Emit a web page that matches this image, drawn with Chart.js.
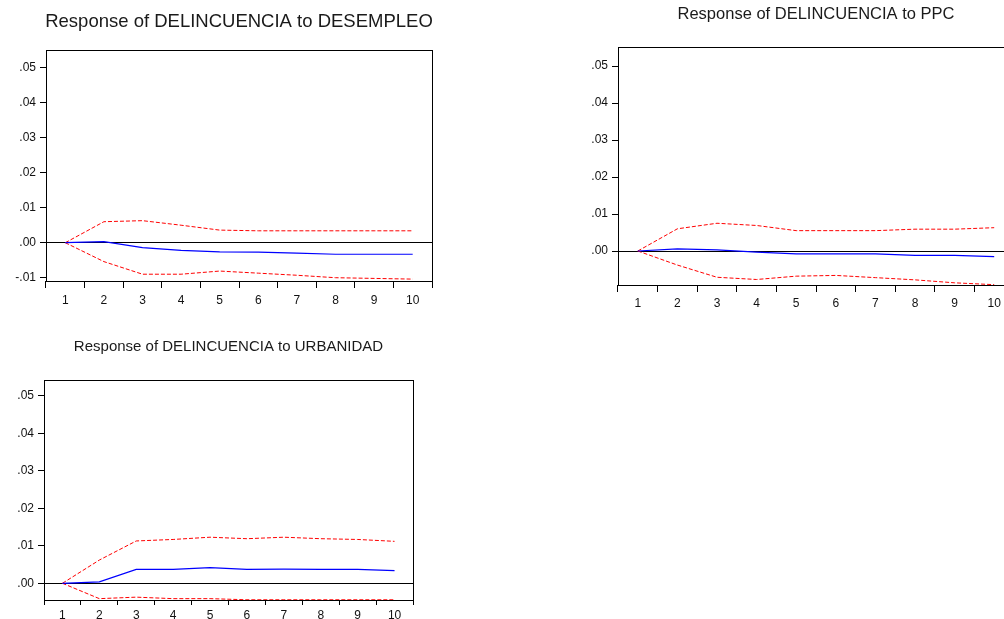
<!DOCTYPE html>
<html lang="en">
<head>
  <meta charset="UTF-8">
  <title>Impulse responses of DELINCUENCIA</title>
  <script src="https://cdn.jsdelivr.net/npm/chart.js"></script>
  <style>
    html, body { margin: 0; padding: 0; background: #fff; overflow: hidden; width: 1004px; height: 619px; }
    canvas { position: absolute; }
  </style>
</head>
<body>
  <canvas id="chartDes" width="478" height="310" style="left:0px;top:0px"></canvas>
  <canvas id="chartPpc" width="476" height="315" style="left:578px;top:0px"></canvas>
  <canvas id="chartUrb" width="457" height="289" style="left:0px;top:330px"></canvas>

  <script>
    const periods = ['1', '2', '3', '4', '5', '6', '7', '8', '9', '10'];
    const ticksWithNeg = [-0.01, 0, 0.01, 0.02, 0.03, 0.04, 0.05];
    const ticksPos = [0, 0.01, 0.02, 0.03, 0.04, 0.05];

    // DESEMPLEO shock
    const desResp = [0, 0.0003, -0.0014, -0.0022, -0.0026, -0.0027, -0.0030, -0.0033, -0.0033, -0.0033];
    const desUpper = [0, 0.0060, 0.0063, 0.0050, 0.0036, 0.0034, 0.0034, 0.0034, 0.0034, 0.0034];
    const desLower = [0, -0.0054, -0.0090, -0.0090, -0.0081, -0.0087, -0.0093, -0.0100, -0.0102, -0.0104];

    // PPC shock
    const ppcResp = [0, 0.0006, 0.0003, -0.0003, -0.0008, -0.0008, -0.0008, -0.0012, -0.0012, -0.0015];
    const ppcUpper = [0, 0.0060, 0.0075, 0.0069, 0.0055, 0.0055, 0.0055, 0.0059, 0.0059, 0.0063];
    const ppcLower = [0, -0.0038, -0.0071, -0.0077, -0.0068, -0.0066, -0.0072, -0.0078, -0.0086, -0.0091];

    // URBANIDAD shock
    const urbResp = [0, 0.0004, 0.0037, 0.0037, 0.0042, 0.0037, 0.0038, 0.0037, 0.0037, 0.0034];
    const urbUpper = [0, 0.0062, 0.0113, 0.0117, 0.0123, 0.0119, 0.0123, 0.0119, 0.0117, 0.0112];
    const urbLower = [0, -0.0041, -0.0037, -0.0041, -0.0041, -0.0044, -0.0044, -0.0044, -0.0044, -0.0044];

    const FONT = "'Liberation Sans', Arial, sans-serif";

    // black frame round the plot area
    const frame = {
      id: 'frame',
      afterDraw(chart) {
        const a = chart.chartArea;
        const ctx = chart.ctx;
        ctx.save();
        ctx.strokeStyle = '#000';
        ctx.lineWidth = 1;
        ctx.strokeRect(Math.round(a.left) + 0.5, Math.round(a.top) + 0.5,
          Math.round(a.right - a.left), Math.round(a.bottom - a.top));
        ctx.restore();
      }
    };

    function fmt(v) {
      return v.toFixed(2).replace('0.', '.');
    }

    function makeChart(id, cfg) {
      new Chart(document.getElementById(id), {
        type: 'line',
        data: {
          labels: periods,
          datasets: [
            { data: cfg.resp, borderColor: '#0000ff', borderWidth: 1.2 },
            { data: cfg.upper, borderColor: '#ff0000', borderWidth: 1, borderDash: [4, 2] },
            { data: cfg.lower, borderColor: '#ff0000', borderWidth: 1, borderDash: [4, 2] }
          ]
        },
        options: {
          responsive: false,
          animation: false,
          elements: { point: { radius: 0 }, line: { tension: 0 } },
          layout: { padding: 0 },
          plugins: {
            legend: { display: false },
            tooltip: { enabled: false },
            title: {
              display: true,
              text: cfg.title,
              color: '#1a1a1a',
              font: { family: FONT, size: cfg.titleSize, weight: 'normal' },
              padding: { top: cfg.titleTop, bottom: cfg.titleBottom }
            }
          },
          scales: {
            x: {
              offset: true,
              border: { display: false },
              grid: { offset: true, drawOnChartArea: false, color: '#000', tickLength: cfg.xTick },
              ticks: { color: '#111', padding: cfg.xPad, maxRotation: 0, font: { family: FONT, size: 12 } },
              afterFit: s => { s.height = cfg.xHeight; }
            },
            y: {
              min: cfg.min,
              max: cfg.max,
              border: { display: false },
              afterBuildTicks: s => { s.ticks = cfg.yTicks.map(v => ({ value: v })); },
              afterFit: s => { s.width = cfg.yWidth; },
              grid: {
                tickLength: 6,
                tickColor: '#000',
                color: c => (c.tick && Math.abs(c.tick.value) < 1e-9) ? '#000' : 'rgba(0,0,0,0)'
              },
              ticks: { color: '#111', padding: 4, font: { family: FONT, size: 12 }, callback: v => fmt(v) }
            },
            // empty right-hand spacer so the title sits over the plot box
            yRight: {
              position: 'right',
              border: { display: false },
              grid: { display: false },
              ticks: { display: false },
              afterFit: s => { s.width = cfg.yWidth; }
            }
          }
        },
        plugins: [frame]
      });
    }

    makeChart('chartDes', {
      title: 'Response of DELINCUENCIA to DESEMPLEO',
      resp: desResp, upper: desUpper, lower: desLower,
      yTicks: ticksWithNeg, min: -0.01094, max: 0.05506,
      titleSize: 18.5, titleTop: 10.5, titleBottom: 17.3,
      yWidth: 46, xHeight: 29, xTick: 7, xPad: 5
    });

    makeChart('chartPpc', {
      title: 'Response of DELINCUENCIA to PPC',
      resp: ppcResp, upper: ppcUpper, lower: ppcLower,
      yTicks: ticksPos, min: -0.00919, max: 0.05514,
      titleSize: 16.5, titleTop: 4.1, titleBottom: 23.1,
      yWidth: 40, xHeight: 30, xTick: 7, xPad: 4
    });

    makeChart('chartUrb', {
      title: 'Response of DELINCUENCIA to URBANIDAD',
      resp: urbResp, upper: urbUpper, lower: urbLower,
      yTicks: ticksPos, min: -0.00446, max: 0.05426,
      titleSize: 15, titleTop: 8, titleBottom: 24,
      yWidth: 44, xHeight: 19, xTick: 5, xPad: 3
    });
  </script>
</body>
</html>
